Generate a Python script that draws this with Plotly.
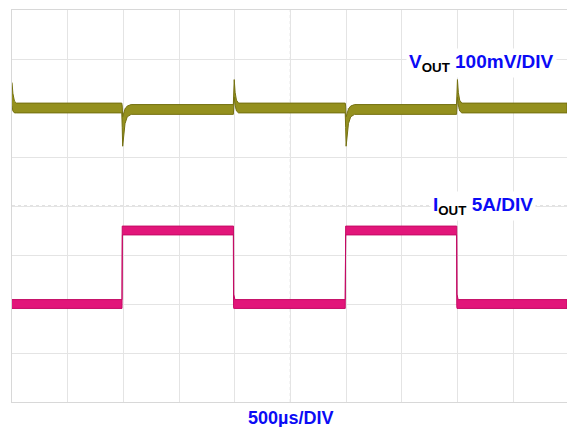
import plotly.graph_objects as go

# ---- scope settings -------------------------------------------------------
TIME_PER_DIV_US = 500          # 500 us/DIV
VOUT_MV_PER_DIV = 100          # 100 mV/DIV
IOUT_A_PER_DIV = 5             # 5 A/DIV
VOUT_OFFSET_DIV = 2.0          # channel 1 ground marker position
IOUT_OFFSET_DIV = -2.0         # channel 2 ground marker position
TRIGGER_US = 988

# ---- VOUT (AC coupled, mV) : upper / lower envelope of the noisy trace ----
vout_t = [0, 8, 22, 40,
          986, 990, 994, 1002, 1015, 1035, 1070,
          1988, 1992, 1996, 2004, 2016, 2035,
          2993, 2997, 3001, 3009, 3022, 3042, 3077,
          3993, 3997, 4001, 4009, 4021, 4040, 4985]
vout_hi = [52, 30, 14, 10,
           10, 4, -18, -12, -2, 4, 7,
           7, 40, 58, 32, 16, 10,
           10, 4, -18, -12, -2, 4, 7,
           7, 40, 58, 32, 16, 10, 10]
vout_lo = [4, -6, -10, -10,
           -10, -40, -78, -55, -32, -18, -13,
           -13, 2, 22, 6, -6, -10,
           -10, -40, -78, -55, -32, -18, -13,
           -13, 2, 22, 6, -6, -10, -10]

# ---- IOUT (A) : upper / lower envelope ------------------------------------
iout_t = [0, 988, 990, 992,
          1988, 1990, 1992, 2002,
          2993, 2995, 2997,
          3993, 3995, 3997, 4007, 4985]
iout_hi = [0.45, 0.45, 7.95, 7.95,
           7.95, 7.95, 1.0, 0.45,
           0.45, 7.95, 7.95,
           7.95, 7.95, 1.0, 0.45, 0.45]
iout_lo = [-0.45, -0.45, 0.45, 7.05,
           7.05, -0.2, -0.45, -0.45,
           -0.45, 0.45, 7.05,
           7.05, -0.2, -0.45, -0.45, -0.45]

X_MAX_US = 4985
GRID = "#e4e4e4"
BLUE = "#0b0bf5"


def to_div(values, offset, per_div):
    return [offset + v / per_div for v in values]


def band(t, hi, lo, offset, per_div, fill, edge, name):
    ys = to_div(hi, offset, per_div) + to_div(lo, offset, per_div)[::-1]
    xs = list(t) + list(t)[::-1]
    return go.Scatter(x=xs, y=ys, fill="toself", fillcolor=fill, mode="lines",
                      line=dict(color=edge, width=1), name=name,
                      hoverinfo="skip", showlegend=False)


fig = go.Figure()
fig.add_trace(band(vout_t, vout_hi, vout_lo, VOUT_OFFSET_DIV, VOUT_MV_PER_DIV,
                   "rgb(148,144,30)", "rgb(116,112,16)", "VOUT"))
fig.add_trace(band(iout_t, iout_hi, iout_lo, IOUT_OFFSET_DIV, IOUT_A_PER_DIV,
                   "rgb(226,22,122)", "rgb(196,10,100)", "IOUT"))

# ground markers on the left edge and trigger marker at the bottom
fig.add_trace(go.Scatter(x=[-45, -45], y=[VOUT_OFFSET_DIV, IOUT_OFFSET_DIV + 0.08],
                         mode="markers", cliponaxis=False, showlegend=False,
                         marker=dict(symbol="square", size=5,
                                     color=["#e2e2b8", "#d8c4ee"],
                                     line=dict(color=["#b8b870", "#a890d0"], width=1))))
fig.add_trace(go.Scatter(x=[TRIGGER_US], y=[-4.06], mode="markers", cliponaxis=False,
                         showlegend=False,
                         marker=dict(symbol="triangle-up", size=5, color="rgb(210,20,110)")))

# dotted centre lines
fig.add_shape(type="line", x0=0, x1=X_MAX_US, y0=0, y1=0, xref="x", yref="y",
              line=dict(color="#c4c4c4", width=1, dash="dot"), layer="below")
fig.add_shape(type="line", x0=5 * TIME_PER_DIV_US, x1=5 * TIME_PER_DIV_US, y0=-4, y1=4,
              xref="x", yref="y", line=dict(color="#c4c4c4", width=1, dash="dot"),
              layer="below")

label_font = dict(family="Liberation Sans, Arial, sans-serif", size=19, color=BLUE)
fig.add_annotation(x=3540, y=2.92, xref="x", yref="y", xanchor="left", yanchor="middle",
                   text="<b>V<sub><span style='color:black'>OUT</span></sub> 100mV/DIV</b>",
                   showarrow=False, font=label_font, bgcolor="white", borderpad=2)
fig.add_annotation(x=3754, y=0.01, xref="x", yref="y", xanchor="left", yanchor="middle",
                   text="<b>I<sub><span style='color:black'>OUT</span></sub> 5A/DIV</b>",
                   showarrow=False, font=label_font, bgcolor="white", borderpad=2)
fig.add_annotation(x=5 * TIME_PER_DIV_US, y=0, xref="x", yref="paper", xanchor="center",
                   yanchor="top", yshift=-4, text="<b>500µs/DIV</b>",
                   showarrow=False, font=dict(label_font, size=18))

fig.update_layout(
    width=567, height=427,
    margin=dict(l=12, r=0, t=10, b=25),
    paper_bgcolor="white", plot_bgcolor="white",
    xaxis=dict(range=[0, X_MAX_US], tick0=0, dtick=TIME_PER_DIV_US, showgrid=True,
               gridcolor=GRID, gridwidth=1, zeroline=False, showticklabels=False,
               ticks="", showline=True, linecolor="#d8d8d8", linewidth=1, mirror=True),
    yaxis=dict(range=[-4, 4], tick0=0, dtick=1, showgrid=True, gridcolor=GRID,
               gridwidth=1, zeroline=False, showticklabels=False, ticks="",
               showline=True, linecolor="#d8d8d8", linewidth=1, mirror=False),
)

fig.write_html("out.html")
